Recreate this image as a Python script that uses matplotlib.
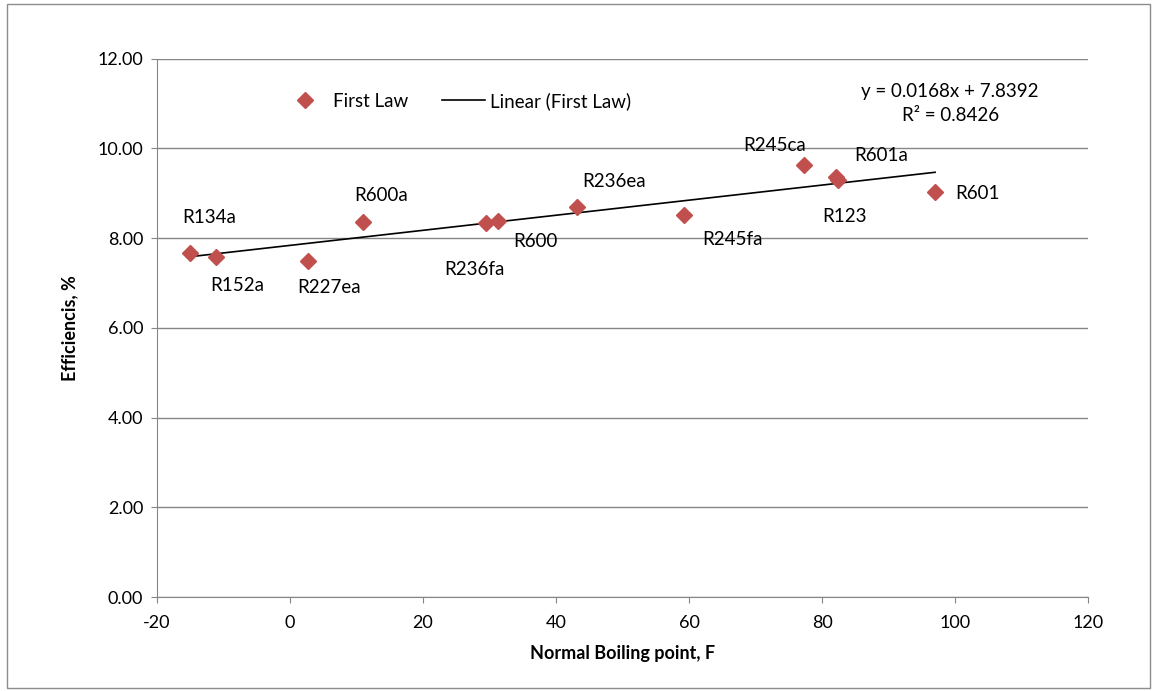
import matplotlib
matplotlib.use("Agg")
import matplotlib.pyplot as plt
from matplotlib.lines import Line2D
from matplotlib.patches import Rectangle
import numpy as np

plt.rcParams['font.family'] = ['Lato', 'DejaVu Sans']
plt.rcParams['axes.unicode_minus'] = False

# refrigerants: normal boiling point (F) vs first law efficiency (%)
names = ["R134a", "R152a", "R227ea", "R600a", "R236fa", "R600",
         "R236ea", "R245fa", "R245ca", "R601a", "R123", "R601"]
boiling = [-15.0, -11.2, 2.7, 11.0, 29.5, 31.2, 43.2, 59.3, 77.3, 82.1, 82.4, 97.0]
eff = [7.67, 7.57, 7.48, 8.36, 8.33, 8.39, 8.70, 8.51, 9.62, 9.37, 9.30, 9.02]

slope = 0.0168
intercept = 7.8392
r2 = 0.8426

# label offsets in pixels (dx, dy)
offsets = [(19, 35), (22, -28), (21, -26), (18, 27), (-12, -46), (38, -21),
           (37, 25), (48, -24), (-29, 20), (45, 21), (7, -37), (42, -1)]

fig = plt.figure(figsize=(11.55, 6.91), dpi=100)
fig.patches.append(Rectangle((0.006, 0.004), 0.99, 0.99, transform=fig.transFigure,
                             fill=False, edgecolor='#8c8c8c', linewidth=1))
ax = fig.add_axes([0.136, 0.136, 0.806, 0.779])

ax.set_xlim(-20, 120)
ax.set_ylim(0, 12)
ax.set_xticks(range(-20, 121, 20))
ax.set_yticks(range(0, 13, 2))
ax.set_yticklabels(["%.2f" % v for v in range(0, 13, 2)])
ax.yaxis.grid(True, color='#868686', linewidth=1)
ax.set_axisbelow(True)
for s in ['top', 'right']:
    ax.spines[s].set_visible(False)
for s in ['left', 'bottom']:
    ax.spines[s].set_color('#868686')
ax.tick_params(axis='both', labelsize=13, color='#868686', length=4, direction='out')
ax.tick_params(axis='x', pad=9)
ax.tick_params(axis='y', pad=6)

ax.set_xlabel("Normal Boiling point, F", fontsize=13, fontweight='bold', labelpad=10)
ax.set_ylabel("Efficiencis, %", fontsize=13, fontweight='bold', labelpad=14)

xs = np.array([min(boiling), max(boiling)])
ax.plot(xs, slope * xs + intercept, color='black', linewidth=1.2, zorder=2)
ax.plot(boiling, eff, linestyle='none', marker='D', markersize=8.5,
        color='#C0504D', zorder=3)

for n, x, y, (dx, dy) in zip(names, boiling, eff, offsets):
    ax.annotate(n, (x, y), xytext=(dx, dy), textcoords='offset pixels',
                ha='center', va='center', fontsize=13.5)

ax.text(0.852, 0.939, "y = %.4fx + %.4f" % (slope, intercept), transform=ax.transAxes,
        ha='center', va='center', fontsize=13.5)
ax.text(0.852, 0.894, "R² = %.4f" % r2, transform=ax.transAxes,
        ha='center', va='center', fontsize=13.5)

handles = [Line2D([], [], linestyle='none', marker='D', markersize=8.5, color='#C0504D'),
           Line2D([], [], color='black', linewidth=1.2)]
ax.legend(handles, ["First Law", "Linear (First Law)"], loc='upper left',
          bbox_to_anchor=(0.118, 0.97), ncol=2, frameon=False, fontsize=13.5,
          handlelength=2.3, columnspacing=1.8, handletextpad=0.3)

fig.savefig("out.png", dpi=100)
